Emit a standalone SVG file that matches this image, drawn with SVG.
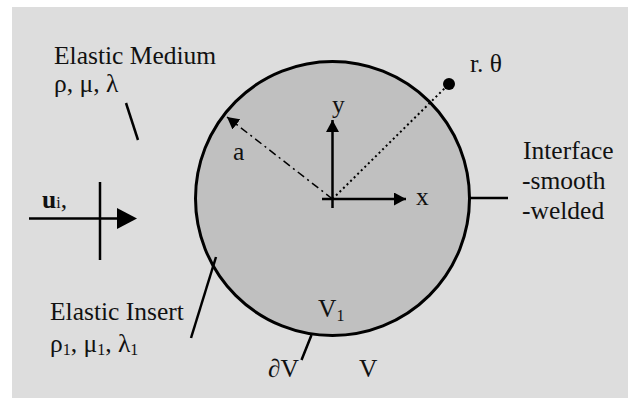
<svg xmlns="http://www.w3.org/2000/svg" width="628" height="398" viewBox="0 0 628 398">
<defs>
<style>
.t{font-family:"Liberation Serif","Times New Roman",serif;font-size:25.5px;fill:#111}
.sub{font-size:16px}
.ln{stroke:#000;stroke-width:2.5;fill:none}
</style>
<marker id="ah" viewBox="0 0 12 13" refX="12" refY="6.5" markerWidth="12" markerHeight="13" markerUnits="userSpaceOnUse" orient="auto">
<path d="M0,0 L12,6.5 L0,13 Z" fill="#000"/>
</marker>
</defs>
<rect x="12" y="7" width="616" height="391" fill="#dddddd"/>
<g id="insert">
<circle cx="332.5" cy="198.5" r="137" fill="#c0c0c0" stroke="#000" stroke-width="3"/>
</g>
<g id="axes">
<line class="ln" x1="332.5" y1="208" x2="332.5" y2="120" marker-end="url(#ah)"/>
<line class="ln" x1="322" y1="199" x2="406" y2="199" marker-end="url(#ah)"/>
<text class="t" x="332" y="113">y</text>
<text class="t" x="416" y="205">x</text>
</g>
<g id="point">
<circle cx="449" cy="84" r="6" fill="#000"/>
<text class="t" x="470" y="72">r. θ</text>
</g>
<g id="connectors">
<line x1="332.5" y1="199" x2="449" y2="84" stroke="#000" stroke-width="2" stroke-dasharray="2 3"/>
<line x1="332.5" y1="199" x2="227" y2="117" stroke="#000" stroke-width="1.5" stroke-dasharray="8 4 2 4" marker-end="url(#ah)"/>
<line class="ln" x1="126" y1="103" x2="138" y2="140" stroke-width="2"/>
<line class="ln" x1="470" y1="198" x2="508" y2="198" stroke-width="2"/>
<line class="ln" x1="216" y1="257" x2="191" y2="338" stroke-width="2"/>
<line class="ln" x1="311.5" y1="335" x2="301.5" y2="360" stroke-width="2"/>
<line class="ln" x1="29" y1="218.5" x2="118" y2="218.5" stroke-width="2.5"/>
<path d="M117,208 L137,218.5 L117,229 Z" fill="#000"/>
<line class="ln" x1="100" y1="182" x2="100" y2="260" stroke-width="2.5"/>
</g>
<g id="medium">
<text class="t" x="54" y="64">Elastic Medium</text>
<text class="t" x="54" y="92">ρ, μ, λ</text>
</g>
<g id="incident">
<text class="t" x="42" y="208"><tspan font-weight="bold">u</tspan><tspan class="sub" font-size="14">i</tspan>,</text>
</g>
<g id="radius">
<text class="t" x="233" y="160">a</text>
</g>
<g id="interface">
<text class="t" x="523" y="159">Interface</text>
<text class="t" x="522" y="189">-smooth</text>
<text class="t" x="522" y="219">-welded</text>
</g>
<g id="insertlabel">
<text class="t" x="50" y="320">Elastic Insert</text>
<text class="t" x="50" y="352">ρ<tspan class="sub" dy="3">1</tspan><tspan dy="-3">, μ</tspan><tspan class="sub" dy="3">1</tspan><tspan dy="-3">, λ</tspan><tspan class="sub" dy="3">1</tspan></text>
</g>
<g id="volumes">
<text class="t" x="318" y="317">V<tspan class="sub" dy="4">1</tspan></text>
<text class="t" x="268" y="377">∂V</text>
<text class="t" x="359" y="377">V</text>
</g>
</svg>
